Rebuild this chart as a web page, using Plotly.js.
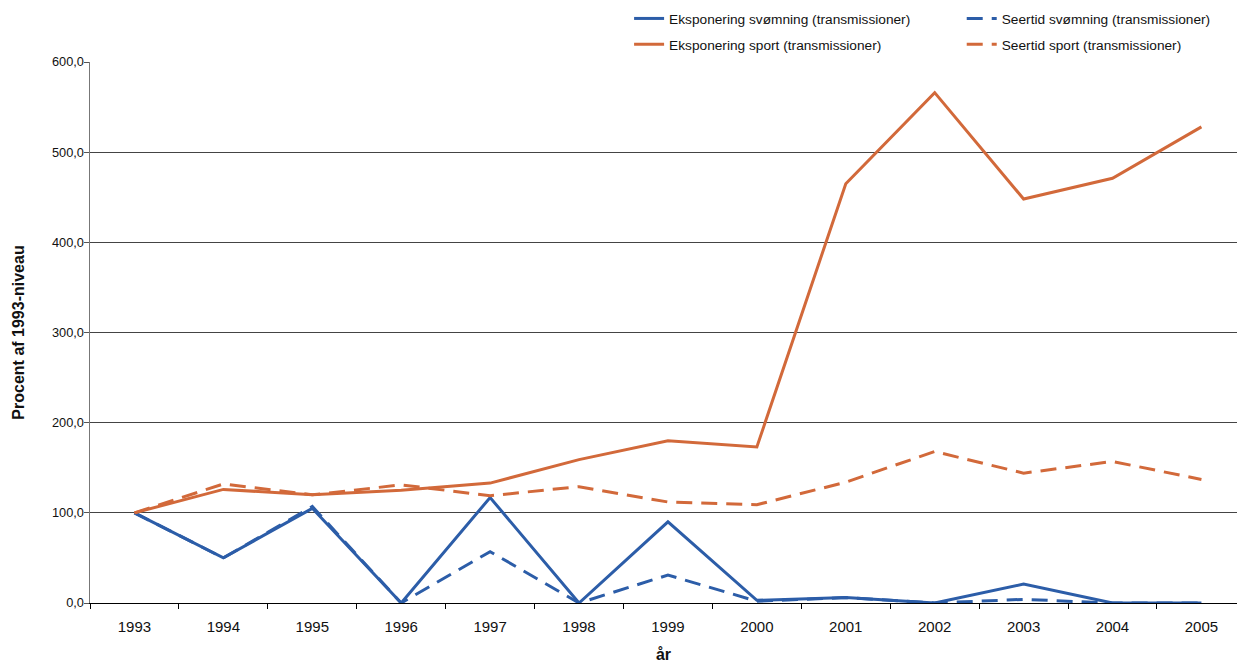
<!DOCTYPE html>
<html>
<head>
<meta charset="utf-8">
<script src="https://cdn.plot.ly/plotly-3.0.1.min.js"></script>
<style>html,body{margin:0;padding:0;background:#fff;}#chart{width:1237px;height:663px;}</style>
</head>
<body>
<div id="chart"></div>
<script>
const years = ["1993","1994","1995","1996","1997","1998","1999","2000","2001","2002","2003","2004","2005"];
const eksponeringSvomning = [100, 50, 105, 0, 117, 0, 90, 3, 6, 0, 21, 0, 0];
const seertidSvomning = [100, 50, 107, 0, 57, 0, 31, 2, 6, 0, 4, 0, 0];
const eksponeringSport = [100, 126, 120, 125, 133, 159, 180, 173, 465, 566, 448, 471, 528];
const seertidSport = [100, 132, 120, 131, 119, 129, 112, 109, 134, 168, 144, 157, 137];
const seriesNames = ["Eksponering svømning (transmissioner)", "Seertid svømning (transmissioner)", "Eksponering sport (transmissioner)", "Seertid sport (transmissioner)"];
const yTicks = [0, 100, 200, 300, 400, 500, 600];

const blue = "#2C5DA8";
const orange = "#D2693A";
const dash = "16px,9px";

const traces = [
  {x: years, y: eksponeringSvomning, name: seriesNames[0], type: "scatter", mode: "lines", line: {color: blue, width: 3}, legend: "legend", legendgroup: "a"},
  {x: years, y: seertidSvomning, name: seriesNames[1], type: "scatter", mode: "lines", line: {color: blue, width: 3, dash: dash}, legend: "legend2", legendgroup: "b"},
  {x: years, y: eksponeringSport, name: seriesNames[2], type: "scatter", mode: "lines", line: {color: orange, width: 3}, legend: "legend", legendgroup: "c"},
  {x: years, y: seertidSport, name: seriesNames[3], type: "scatter", mode: "lines", line: {color: orange, width: 3, dash: dash}, legend: "legend2", legendgroup: "d"}
];

const fontFam = "Liberation Sans, Arial, sans-serif";
const legendCommon = {
  orientation: "v", xanchor: "left", yanchor: "top",
  font: {family: fontFam, size: 13.7, color: "#111"}, bgcolor: "rgba(0,0,0,0)", tracegroupgap: 5,
  itemwidth: 30, traceorder: "grouped"
};

const layout = {
  width: 1237, height: 663,
  margin: {l: 90, r: 0, t: 62, b: 60, autoexpand: false},
  paper_bgcolor: "#fff", plot_bgcolor: "#fff",
  font: {family: fontFam, size: 12, color: "#111"},
  showlegend: true,
  legend: Object.assign({}, legendCommon, {x: 0.470, y: 1.109}),
  legend2: Object.assign({}, legendCommon, {x: 0.760, y: 1.109}),
  xaxis: {
    type: "category", range: [-0.5, 12.4], tickson: "boundaries",
    ticks: "outside", ticklen: 5, tickcolor: "#000", tickwidth: 1,
    showline: true, linecolor: "#000", linewidth: 1, showgrid: false, zeroline: false,
    ticklabelstandoff: 10,
    tickfont: {family: fontFam, size: 15, color: "#111"},
    title: {text: "<b>år</b>", font: {family: fontFam, size: 16, color: "#111"}, standoff: 14}
  },
  yaxis: {
    range: [0, 600], tickvals: yTicks, tickformat: ".1f",
    ticks: "outside", ticklen: 5, tickcolor: "#555", tickwidth: 1,
    showline: true, linecolor: "#777", linewidth: 1.5,
    showgrid: true, gridcolor: "#444", gridwidth: 1, zeroline: false,
    ticklabelstandoff: -3,
    tickfont: {family: fontFam, size: 12.8, color: "#111"},
    title: {text: "<b>Procent af 1993-niveau</b>", font: {family: fontFam, size: 16, color: "#111"}, standoff: 23}
  },
  separators: ",."
};

Plotly.newPlot("chart", traces, layout, {displayModeBar: false, staticPlot: true});
</script>
</body>
</html>
